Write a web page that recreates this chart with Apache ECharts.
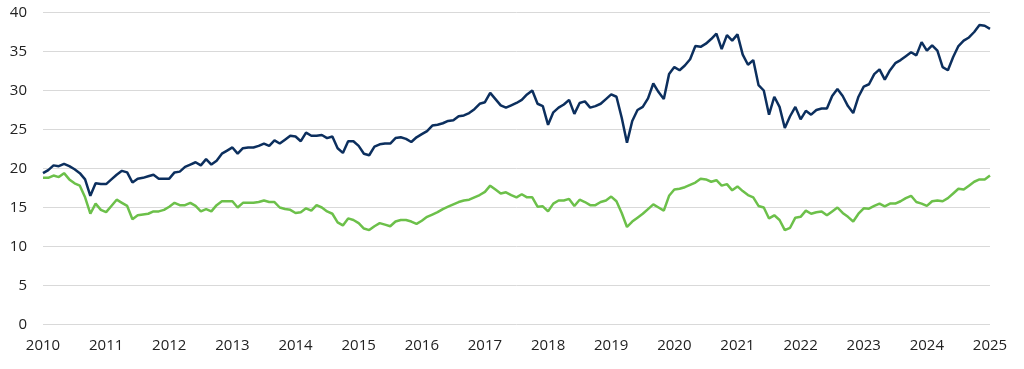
<!DOCTYPE html>
<html>
<head>
<meta charset="utf-8">
<script src="https://cdn.jsdelivr.net/npm/echarts@6/dist/echarts.min.js"></script>
<style>
html,body{margin:0;padding:0;background:#fff;}
#chart{width:1024px;height:369px;}
</style>
</head>
<body>
<div id="chart"></div>
<script>
// Monthly observations, January 2010 to January 2025
var startYear = 2010;
var yearTicks = [2010,2011,2012,2013,2014,2015,2016,2017,2018,2019,2020,2021,2022,2023,2024,2025];
var yTicks = [0,5,10,15,20,25,30,35,40];

var navySeries = [
  19.4,19.8,20.4,20.3,20.6,20.3,19.9,19.4,18.6,16.5,18.1,18.0,
  18.0,18.6,19.2,19.7,19.5,18.2,18.7,18.8,19.0,19.2,18.7,18.7,
  18.7,19.5,19.6,20.2,20.5,20.8,20.4,21.2,20.5,21.0,21.9,22.3,
  22.7,21.9,22.6,22.7,22.7,22.9,23.2,22.9,23.6,23.2,23.7,24.2,
  24.1,23.5,24.6,24.2,24.2,24.3,23.9,24.1,22.6,22.0,23.5,23.5,
  22.9,21.9,21.7,22.8,23.1,23.2,23.2,23.9,24.0,23.8,23.4,24.0,
  24.4,24.8,25.5,25.6,25.8,26.1,26.2,26.7,26.8,27.1,27.6,28.3,
  28.5,29.7,28.9,28.1,27.8,28.1,28.4,28.8,29.5,30.0,28.3,28.0,
  25.6,27.2,27.8,28.2,28.8,27.0,28.4,28.6,27.8,28.0,28.3,28.9,
  29.5,29.2,26.5,23.3,26.1,27.5,27.9,29.0,30.9,29.8,28.9,32.1,
  33.0,32.6,33.2,34.0,35.7,35.6,36.0,36.6,37.3,35.3,37.1,36.4,
  37.2,34.6,33.3,33.9,30.7,30.0,26.9,29.2,27.9,25.2,26.7,27.9,
  26.3,27.4,26.9,27.5,27.7,27.7,29.3,30.2,29.3,28.0,27.1,29.2,
  30.5,30.8,32.1,32.7,31.4,32.6,33.5,33.9,34.4,34.9,34.5,36.2,
  35.1,35.8,35.1,33.0,32.6,34.3,35.7,36.4,36.8,37.5,38.4,38.3,
  37.9
];

var greenSeries = [
  18.8,18.8,19.1,18.9,19.4,18.6,18.1,17.8,16.3,14.2,15.5,14.7,
  14.4,15.2,16.0,15.6,15.2,13.5,14.0,14.1,14.2,14.5,14.5,14.7,
  15.1,15.6,15.3,15.3,15.6,15.2,14.5,14.8,14.5,15.3,15.8,15.8,
  15.8,15.0,15.6,15.6,15.6,15.7,15.9,15.7,15.7,15.0,14.8,14.7,
  14.3,14.4,14.9,14.6,15.3,15.0,14.5,14.2,13.1,12.7,13.6,13.4,
  13.0,12.3,12.1,12.6,13.0,12.8,12.6,13.2,13.4,13.4,13.2,12.9,
  13.3,13.8,14.1,14.4,14.8,15.1,15.4,15.7,15.9,16.0,16.3,16.6,
  17.0,17.8,17.3,16.8,16.95,16.6,16.3,16.7,16.3,16.3,15.1,15.15,
  14.5,15.5,15.9,15.9,16.1,15.2,16.0,15.7,15.3,15.3,15.7,15.9,
  16.4,15.8,14.3,12.5,13.2,13.7,14.2,14.8,15.4,15.0,14.6,16.5,
  17.3,17.4,17.6,17.9,18.2,18.7,18.6,18.3,18.5,17.8,18.0,17.2,
  17.7,17.1,16.6,16.3,15.2,15.0,13.6,14.0,13.4,12.1,12.4,13.7,
  13.8,14.6,14.2,14.4,14.5,14.0,14.5,15.0,14.3,13.8,13.2,14.2,
  14.9,14.85,15.2,15.5,15.15,15.5,15.5,15.8,16.2,16.5,15.7,15.5,
  15.2,15.8,15.9,15.8,16.2,16.8,17.4,17.3,17.8,18.3,18.6,18.6,
  19.1
];

function toPairs(arr){
  return arr.map(function(v,i){ return [startYear + i/12, v]; });
}

var chart = echarts.init(document.getElementById('chart'), null, {renderer:'canvas'});
var textStyle = {color:'#222', fontFamily:'"Open Sans", "Noto Sans", sans-serif', fontSize:15};
chart.setOption({
  animation:false,
  backgroundColor:'#fff',
  grid:{left:43, right:34, top:12.5, bottom:44.5, containLabel:false},
  xAxis:{
    type:'value',
    min:yearTicks[0], max:yearTicks[yearTicks.length-1], interval:1,
    axisLine:{show:false}, axisTick:{show:false}, splitLine:{show:false},
    axisLabel:Object.assign({margin:14, formatter:function(v){return String(Math.round(v));}}, textStyle)
  },
  yAxis:{
    type:'value',
    min:yTicks[0], max:yTicks[yTicks.length-1], interval:5,
    axisLine:{show:false}, axisTick:{show:false},
    splitLine:{show:true, lineStyle:{color:'#d9d9d9', width:1}},
    axisLabel:Object.assign({margin:16}, textStyle)
  },
  series:[
    {type:'line', data:toPairs(navySeries), showSymbol:false, symbol:'none',
     lineStyle:{color:'#0c2f5e', width:2.5}, z:3},
    {type:'line', data:toPairs(greenSeries), showSymbol:false, symbol:'none',
     lineStyle:{color:'#6cc04a', width:2.5}, z:2}
  ]
});
</script>
</body>
</html>
